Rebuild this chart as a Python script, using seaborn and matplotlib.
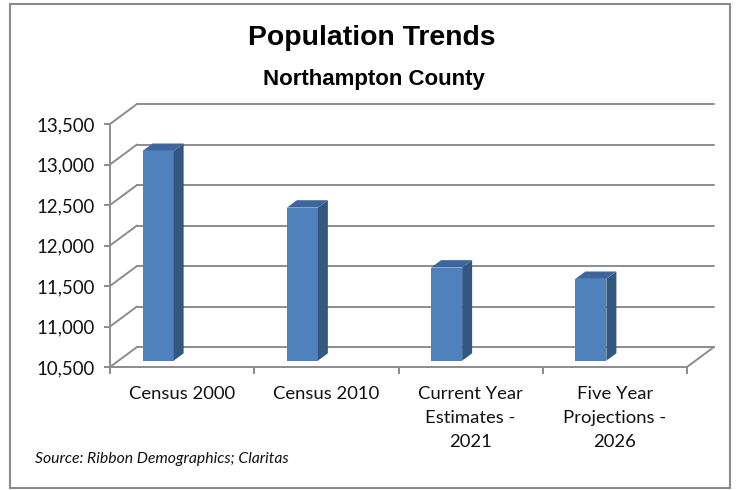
import matplotlib
matplotlib.use("Agg")
import matplotlib.pyplot as plt
import matplotlib.transforms as mtransforms
from matplotlib.patches import Polygon, Rectangle
from matplotlib.lines import Line2D
from matplotlib.ticker import FixedLocator
import seaborn as sns
import pandas as pd

# data
categories = ["Census 2000", "Census 2010",
              "Current Year\nEstimates -\n2021", "Five Year\nProjections -\n2026"]
population = [13090, 12390, 11650, 11510]
y_ticks = [10500, 11000, 11500, 12000, 12500, 13000, 13500]
y_labels = ["10,500", "11,000", "11,500", "12,000", "12,500", "13,000", "13,500"]
base = 10500

df = pd.DataFrame({"category": categories, "population": population})
df["height"] = df["population"] - base  # bars start at the axis floor

sns.set_theme(style="white")
plt.rcParams["font.family"] = ["Lato", "DejaVu Sans"]

grid_col = "#8c8c8c"
front_col = "#4f81bd"
side_col = "#34577f"
top_col = "#3d66a0"
txt_col = "#111111"

fig = plt.figure(figsize=(7.38, 4.9), dpi=100)
ax = fig.add_axes([110 / 738, 1 - 367 / 490, 577 / 738, 243 / 490])
ax.set_xlim(-0.5, 3.5)
ax.set_ylim(y_ticks[0], y_ticks[-1])

# 3d look: back wall shifted right/up
depth = mtransforms.ScaledTranslation(27 / 100, 20 / 100, fig.dpi_scale_trans)
for t in y_ticks:
    ax.plot([-0.5, 3.5], [t, t], color=grid_col, lw=1.4, transform=ax.transData + depth,
            clip_on=False, zorder=0.5)
    px, py = ax.transData.transform((-0.5, t))
    ax.add_line(Line2D([px, px + 27], [py, py + 20], color=grid_col, lw=1.4,
                       transform=mtransforms.IdentityTransform(), clip_on=False, zorder=0.5))
px, py = ax.transData.transform((3.5, base))
ax.add_line(Line2D([px, px + 27], [py, py + 20], color=grid_col, lw=1.4,
                   transform=mtransforms.IdentityTransform(), clip_on=False, zorder=0.5))

sns.barplot(data=df, x="category", y="height", bottom=base, color=front_col, saturation=1,
            width=0.215, errorbar=None, ax=ax, zorder=2)
ax.set_xlim(-0.5, 3.5)
ax.set_ylim(y_ticks[0], y_ticks[-1])

shift = mtransforms.ScaledTranslation(-24 / 100, 6.3 / 100, fig.dpi_scale_trans)
dx, dy = 10, 7.4
for bar in list(ax.patches):
    bar.set_transform(ax.transData + shift)
    bar.set_clip_on(False)
    bar.set_linewidth(0)
    bb = bar.get_window_extent()
    x0, y0, x1, y1 = bb.x0, bb.y0, bb.x1, bb.y1
    side = Polygon([(x1, y0), (x1 + dx, y0 + dy), (x1 + dx, y1 + dy), (x1, y1)],
                   closed=True, facecolor=side_col, edgecolor="none",
                   transform=mtransforms.IdentityTransform(), clip_on=False, zorder=2)
    top = Polygon([(x0, y1), (x1, y1), (x1 + dx, y1 + dy), (x0 + dx, y1 + dy)],
                  closed=True, facecolor=top_col, edgecolor="none",
                  transform=mtransforms.IdentityTransform(), clip_on=False, zorder=2)
    ax.add_artist(side)
    ax.add_artist(top)

# axes styling
for s in ["top", "right"]:
    ax.spines[s].set_visible(False)
for s in ["left", "bottom"]:
    ax.spines[s].set_color(grid_col)
    ax.spines[s].set_linewidth(1.4)
ax.set_yticks(y_ticks)
ax.set_yticklabels(y_labels)
ax.set_xticks(range(len(categories)))
ax.set_xticklabels(categories, linespacing=1.6)
ax.xaxis.set_minor_locator(FixedLocator([-0.5, 0.5, 1.5, 2.5, 3.5]))
ax.tick_params(axis="x", which="major", length=0, pad=14, labelsize=13.3, labelcolor=txt_col)
ax.tick_params(axis="x", which="minor", length=5, width=1.4, color=grid_col, bottom=True)
ax.tick_params(axis="y", length=4, width=1.4, color=grid_col, left=True, pad=7,
               labelsize=13.4, labelcolor=txt_col)
for lab in ax.get_xticklabels():
    lab.set_verticalalignment("top")
ax.set_xlabel("")
ax.set_ylabel("")
ax.patch.set_alpha(0)

fig.text(372 / 738, 1 - 38 / 490, "Population Trends", ha="center", va="center",
         fontsize=20.4, fontweight="bold", color="black",
         family=["Liberation Sans", "DejaVu Sans"])
fig.text(374 / 738, 1 - 80 / 490, "Northampton County", ha="center", va="center",
         fontsize=16, fontweight="bold", color="black",
         family=["Liberation Sans", "DejaVu Sans"])
fig.text(35 / 738, 1 - 459 / 490, "Source: Ribbon Demographics; Claritas", ha="left",
         va="center", fontsize=11.3, style="italic", color=txt_col)

fig.add_artist(Rectangle((10 / 738, 1 - 488 / 490), 720 / 738, 484 / 490, fill=False,
                         edgecolor="#8a8a8a", lw=1.5, transform=fig.transFigure))

fig.savefig("out.png", dpi=100)
